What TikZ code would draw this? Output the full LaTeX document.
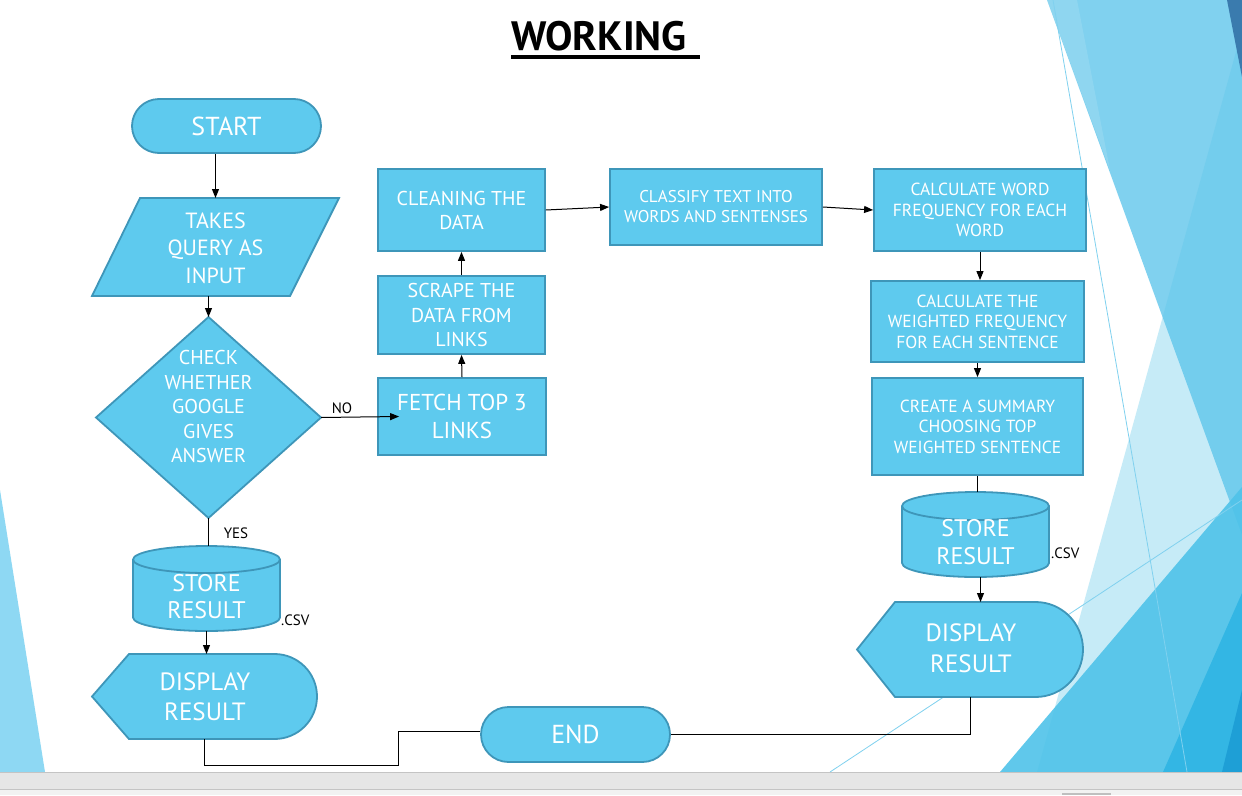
\documentclass[tikz,border=0pt]{standalone}
\usepackage{fontspec}
\setmainfont{PT Sans}
\usetikzlibrary{arrows.meta,calc}
\definecolor{boxfill}{HTML}{5ECAEE}
\definecolor{boxline}{HTML}{3E96B9}
\definecolor{decoA}{HTML}{80D1EF}
\definecolor{decoB}{HTML}{5DC6EA}
\definecolor{decoM}{HTML}{4FC3E9}
\definecolor{decoD}{HTML}{2AB3E3}
\definecolor{decoE}{HTML}{1E9FD6}
\definecolor{decoTop}{HTML}{3A7BAE}
\definecolor{decoLeft}{HTML}{8ED8F3}
\definecolor{barfill}{HTML}{E6E6E6}
\definecolor{barline}{HTML}{C4C4C4}
\newcommand\fsz[2]{\fontsize{#1pt}{#2pt}\selectfont}
\begin{document}
\begin{tikzpicture}[x=1pt,y=-1pt,
  shapebox/.style={fill=boxfill,draw=boxline,line width=1.8pt},
  procbox/.style={shapebox,text=white,align=center,inner sep=0pt},
  ghost/.style={inner sep=0pt,outer sep=0pt,draw=none,fill=none},
  txt/.style={text=white,align=center,inner sep=0pt},
  lbl/.style={text=black,inner sep=0pt,font=\fsz{15}{18}},
  conn/.style={draw=black,line width=1pt},
  arr/.style={conn,-{Triangle[length=9pt,width=7pt]}},
]
\useasboundingbox (0,0) rectangle (1242,795);
\fill[white] (0,0) rectangle (1242,795);
% decorative background
\fill[decoA] (1047,0) -- (1242,0) -- (1242,535) -- cycle;
\fill[white, opacity=0.12] (1047,0) -- (1077,0) -- (1110,170) -- cycle;
\fill[decoB, opacity=0.35] (1242,30) -- (1037,772) -- (1242,772) -- cycle;
\fill[decoM, opacity=0.9] (1000,772) -- (1242,487) -- (1242,772) -- cycle;
\fill[decoD, opacity=0.8] (1163,772) -- (1242,593) -- (1242,772) -- cycle;
\fill[decoE] (1222,772) -- (1242,690) -- (1242,772) -- cycle;
\fill[decoTop] (1227,0) -- (1242,0) -- (1242,77) -- cycle;
\draw[decoA, line width=0.8pt] (1053,0) -- (1187,772);
\draw[decoA, line width=0.8pt] (830,772) -- (1242,500);
\fill[decoLeft] (0,490) -- (45,772) -- (0,772) -- cycle;

% title
\node[font=\fsz{41}{45}\bfseries, anchor=base west, inner sep=0pt] (title) at (511,50) {WORKING};
\draw[line width=4pt] ($(title.base west)+(0,7)$) -- ($(title.base east)+(13,7)$);

% left column
\node[procbox, rounded corners=27pt, minimum width=189pt, minimum height=54pt, font=\fsz{26}{30}] (start) at (226.5,126) {START};

\node[ghost, minimum width=247pt, minimum height=98pt] (query) at (215.5,247) {};
\draw[shapebox] ([xshift=48pt]query.north west) -- (query.north east) -- ([xshift=-49pt]query.south east) -- (query.south west) -- cycle;
\node[txt, font=\fsz{22}{27.5}] (queryT) at (215.5,248) {TAKES\\QUERY AS\\INPUT};

\node[ghost, minimum width=225pt, minimum height=201pt] (check) at (208.5,417.5) {};
\draw[shapebox] (check.north) -- (check.east) -- (check.south) -- (check.west) -- cycle;
\node[txt, font=\fsz{20}{24.5}] (checkT) at (208.5,406.5) {CHECK\\WHETHER\\GOOGLE\\GIVES\\ANSWER};

\node[ghost, minimum width=147pt, minimum height=85pt] (storeL) at (206.5,588.5) {};
\draw[shapebox] ([yshift=-13.5pt]storeL.north west) -- ([yshift=13.5pt]storeL.south west)
  arc[start angle=180,end angle=360,x radius=73.5pt,y radius=13.5pt]
  -- ([yshift=-13.5pt]storeL.north east)
  arc[start angle=0,end angle=180,x radius=73.5pt,y radius=13.5pt] -- cycle;
\draw[shapebox, fill=none] ([yshift=-13.5pt]storeL.north west) arc[start angle=180,end angle=360,x radius=73.5pt,y radius=13.5pt];
\node[txt, font=\fsz{24}{27}] (storeLT) at (206.5,597) {STORE\\RESULT};
\node[lbl, anchor=west] (csvL) at (281,620) {.CSV};

\node[ghost, minimum width=225pt, minimum height=85pt] (dispL) at (204.5,696.5) {};
\draw[shapebox] (dispL.west) -- ([xshift=37pt]dispL.north west) -- ([xshift=-42.5pt]dispL.north east)
  arc[start angle=90,end angle=-90,radius=42.5pt] -- ([xshift=37pt]dispL.south west) -- cycle;
\node[txt, font=\fsz{25}{30}] (dispLT) at (205,697) {DISPLAY\\RESULT};

% middle
\node[procbox, minimum width=168pt, minimum height=77pt, font=\fsz{23}{28}] (fetch) at (462,416.5) {FETCH TOP 3\\LINKS};
\node[procbox, minimum width=167pt, minimum height=78pt, font=\fsz{20}{24.5}] (scrape) at (461.5,315) {SCRAPE THE\\DATA FROM\\LINKS};
\node[procbox, minimum width=167pt, minimum height=82pt, font=\fsz{20}{24}] (clean) at (461.5,210) {CLEANING THE\\DATA};
\node[procbox, minimum width=212pt, minimum height=76pt, font=\fsz{17}{20}] (classify) at (716,207) {CLASSIFY TEXT INTO\\WORDS AND SENTENSES};

% right column
\node[procbox, minimum width=212pt, minimum height=82pt, font=\fsz{17.5}{20.5}] (wordfreq) at (980,210) {CALCULATE WORD\\FREQUENCY FOR EACH\\WORD};
\node[procbox, minimum width=213pt, minimum height=81pt, font=\fsz{17.5}{20.5}] (weighted) at (977.5,321.5) {CALCULATE THE\\WEIGHTED FREQUENCY\\FOR EACH SENTENCE};
\node[procbox, minimum width=211pt, minimum height=97pt, font=\fsz{17.5}{20.5}] (summary) at (977.5,426.5) {CREATE A SUMMARY\\CHOOSING TOP\\WEIGHTED SENTENCE};

\node[ghost, minimum width=147pt, minimum height=85pt] (storeR) at (975.5,534.5) {};
\draw[shapebox] ([yshift=-14pt]storeR.north west) -- ([yshift=14pt]storeR.south west)
  arc[start angle=180,end angle=360,x radius=73.5pt,y radius=14pt]
  -- ([yshift=-14pt]storeR.north east)
  arc[start angle=0,end angle=180,x radius=73.5pt,y radius=14pt] -- cycle;
\draw[shapebox, fill=none] ([yshift=-14pt]storeR.north west) arc[start angle=180,end angle=360,x radius=73.5pt,y radius=14pt];
\node[txt, font=\fsz{24}{28}] (storeRT) at (975.5,542) {STORE\\RESULT};
\node[lbl, anchor=west] (csvR) at (1051,553) {.CSV};

\node[ghost, minimum width=226pt, minimum height=95pt] (dispR) at (970,649.5) {};
\draw[shapebox] (dispR.west) -- ([xshift=38pt]dispR.north west) -- ([xshift=-47.5pt]dispR.north east)
  arc[start angle=90,end angle=-90,radius=47.5pt] -- ([xshift=38pt]dispR.south west) -- cycle;
\node[txt, font=\fsz{25}{31}] (dispRT) at (971,648.5) {DISPLAY\\RESULT};

\node[procbox, rounded corners=27.5pt, minimum width=189pt, minimum height=55pt, font=\fsz{26}{30}] (endn) at (575.5,734.5) {END};

% connectors
\draw[arr] (query.north |- start.south) -- (query.north);
\draw[arr] (check.north |- query.south) -- (check.north);
\draw[arr] (check.east) -- ($(fetch.west)+(22,0)$);
\node[lbl] (no) at (342,408) {NO};
\draw[conn] (check.south) -- (check.south |- storeL.north);
\node[lbl] (yes) at (236,533) {YES};
\draw[arr] (storeL.south) -- (storeL.south |- dispL.north);
\coordinate (j1) at (398,765);
\coordinate (j2) at (398,731);
\draw[conn] (dispL.south) |- (j1) -- (j2) -- (j2 -| endn.west);
\draw[arr] (fetch.north) -- (scrape.south);
\draw[arr] (scrape.north) -- (clean.south);
\draw[arr] (clean.east) -- (classify.west);
\draw[arr] (classify.east) -- (wordfreq.west);
\draw[arr] (wordfreq.south) -- (wordfreq.south |- weighted.north);
\draw[arr] (weighted.south) -- (weighted.south |- summary.north);
\draw[conn] (summary.south) -- (summary.south |- storeR.north);
\draw[arr] ([xshift=5pt]storeR.south) -- ([xshift=5pt]storeR.south |- dispR.north);
\draw[conn] (dispR.south) |- (endn.east);

% bottom bar
\fill[barfill] (0,772) rectangle (1242,789);
\draw[barline, line width=1pt] (0,772.5) -- (1242,772.5);
\draw[barline, line width=1pt] (0,789.5) -- (1242,789.5);
\fill[black!5] (0,790) rectangle (1242,795);
\fill[black!25] (1062,793) rectangle (1111,795);
\end{tikzpicture}
\end{document}
